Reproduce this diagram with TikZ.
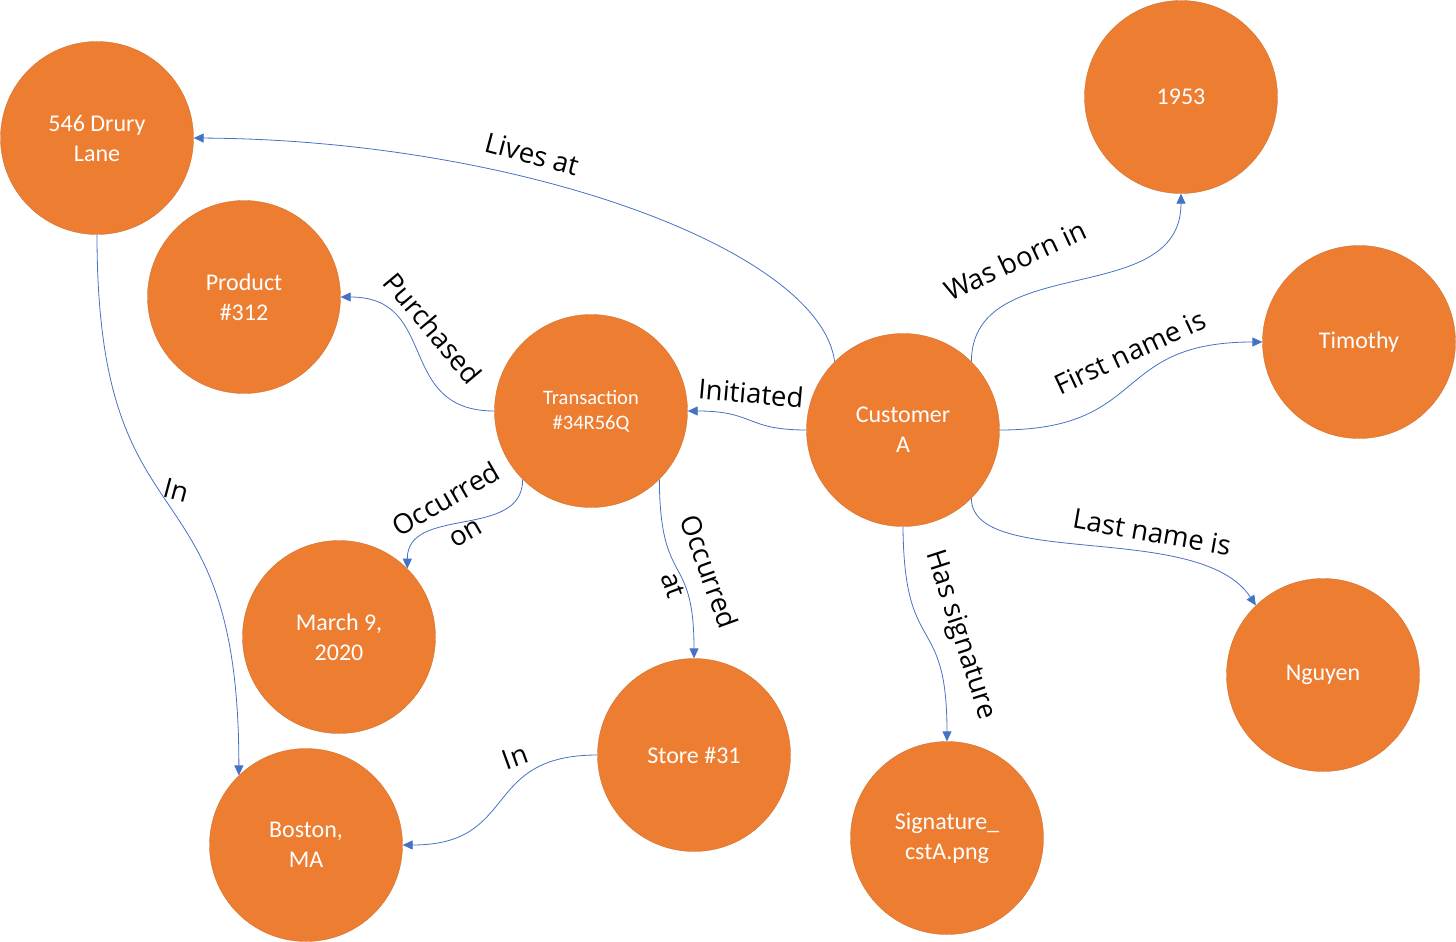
\documentclass[tikz,border=0pt]{standalone}
\usepackage{fontspec}
\setmainfont{Carlito}
\newfontfamily\lblfont{Open Sans}
\usetikzlibrary{arrows.meta}
\definecolor{orng}{HTML}{ED7D31}
\definecolor{edgeblue}{HTML}{4472C4}
\tikzset{
  ent/.style={circle, fill=orng, draw=orng!85!black, line width=0.3pt, minimum size=193pt, inner sep=0pt,
    text=white, font=\fontsize{24}{30}\selectfont, align=center},
  rel/.style={draw=edgeblue, line width=0.8pt, -{Triangle[length=10pt,width=9pt]}},
  lbl/.style={font=\lblfont\fontsize{27.5}{32}\selectfont, text=black, align=center, inner sep=0pt},
  lbltwo/.style={lbl, font=\lblfont\fontsize{27.5}{38}\selectfont}
}
\begin{document}
\begin{tikzpicture}[x=1pt,y=-1pt]
\useasboundingbox (0,0) rectangle (1456,942);
\node[ent] (drury) at (97,138) {546 Drury\\Lane};
\node[ent] (prod) at (244,297) {Product\\\#312};
\node[ent, font=\fontsize{20.5}{25}\selectfont] (trans) at (591,411) {Transaction\\\#34R56Q};
\node[ent] (cust) at (903,430) {Customer\\A};
\node[ent] (y1953) at (1181,97) {1953};
\node[ent] (tim) at (1359,342) {Timothy};
\node[ent] (ngu) at (1323,675) {Nguyen};
\node[ent] (sig) at (947,838) {Signature\_\\cstA.png};
\node[ent] (store) at (694,755) {Store \#31};
\node[ent] (march) at (339,637) {March 9,\\2020};
\node[ent] (boston) at (306,845) {Boston,\\MA};

\draw[rel] (cust.135) .. controls (820,250) and (520,140) .. (drury.east);
\draw[rel] (cust.west) .. controls (745,430) and (755,411) .. (trans.east);
\draw[rel] (trans.west) .. controls (395,411) and (440,297) .. (prod.east);
\draw[rel] (trans.225) .. controls (523,540) and (407,505) .. (march.45);
\draw[rel] (trans.-45) .. controls (660,590) and (694,550) .. (store.north);
\draw[rel] (cust.45) .. controls (972,250) and (1181,310) .. (y1953.south);
\draw[rel] (cust.east) .. controls (1150,430) and (1110,342) .. (tim.west);
\draw[rel] (cust.-45) .. controls (972,570) and (1200,520) .. (ngu.134);
\draw[rel] (cust.south) .. controls (904,660) and (947,610) .. (sig.north);
\draw[rel] (drury.south) .. controls (97,560) and (239,450) .. (boston.134);
\draw[rel] (store.west) .. controls (480,755) and (520,845) .. (boston.east);

\node[lbl, rotate=-15] (l1) at (532,154) {Lives at};
\node[lbl, rotate=-5] (l2) at (751,393) {Initiated};
\node[lbl, rotate=-50] (l3) at (433,328) {Purchased};
\node[lbltwo, rotate=30] (l4) at (455,515) {Occurred\\on};
\node[lbltwo, rotate=-70] (l5) at (692,578) {Occurred\\at};
\node[lbl, rotate=25] (l6) at (1015,260) {Was born in};
\node[lbl, rotate=25] (l7) at (1130,352) {First name is};
\node[lbl, rotate=-10] (l8) at (1152,532) {Last name is};
\node[lbl, rotate=-72] (l9) at (960,635) {Has signature};
\node[lbl, rotate=-15] (l10) at (176,490) {In};
\node[lbl, rotate=20] (l11) at (515,757) {In};
\end{tikzpicture}
\end{document}
